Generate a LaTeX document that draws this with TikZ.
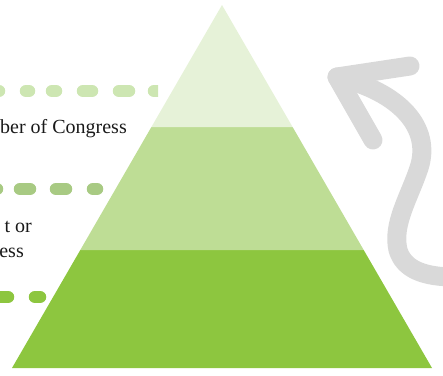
\documentclass[tikz,border=0pt]{standalone}
\usepackage{fontspec}
\setmainfont{Liberation Serif}
\definecolor{tiertop}{HTML}{E6F2D8}
\definecolor{tiermid}{HTML}{BEDD95}
\definecolor{tierbot}{HTML}{8DC63F}
\definecolor{dashtop}{HTML}{CDE6B2}
\definecolor{dashmid}{HTML}{A8CA83}
\definecolor{arrowgray}{HTML}{D9D9D9}
\begin{document}
\begin{tikzpicture}[x=1pt,y=-1pt, line join=round, line cap=round]
	\tikzset{rank/.style={font=\fontsize{20}{24}\selectfont, text=black!90, inner sep=0pt},
		leader/.style={line width=12.5}}
	\def \W{443}\def \H{375}
	\useasboundingbox (0,0) rectangle (\W,\H);
	\clip (0,0) rectangle (\W,\H);
	% pyramid
	\coordinate (apex) at (222,5);
	\coordinate (bl) at (12,368);
	\coordinate (br) at (432,368);
	\fill[tierbot] (80.3,250)--(363.7,250)--(br)--(bl)--cycle;
	\fill[tiermid] (151.4,127)--(292.6,127)--(363.7,250)--(80.3,250)--cycle;
	\fill[tiertop] (apex)--(292.6,127)--(151.4,127)--cycle;
	% dotted leaders
	\foreach \a/\b in {-5/-1, 26/29, 52/56, 83/92, 119/129}
	\draw[leader, dashtop] (\a,91)--(\b,91);
	\begin{scope}
		\clip (140,80) rectangle (158,104);
		\draw[leader, dashtop] (154,91)--(170,91);
	\end{scope}
	\foreach \a/\b in {-6/-3, 20/30, 56/66, 93/97}
	\draw[leader, dashmid] (\a,189)--(\b,189);
	\foreach \a/\b in {-6/8, 35/40}
	\draw[leader, tierbot] (\a,297)--(\b,297);
	% labels
	\node[rank, anchor=base east] (member) at (127,133) {ber of Congress};
	\node[rank, anchor=base east] (lineone) at (32,232) {t or};
	\node[rank, anchor=base east] (linetwo) at (24,257) {ess};
	% curved arrow
	\draw[arrowgray, line width=19] (337,77) .. controls (400,92) and (432,128) .. (419,168)
	.. controls (409,198) and (392,224) .. (398,250) .. controls (404,270) and (425,277) .. (455,277);
	\draw[arrowgray, line width=19] (410,66)--(337,77)--(373,140);
\end{tikzpicture}
\end{document}
